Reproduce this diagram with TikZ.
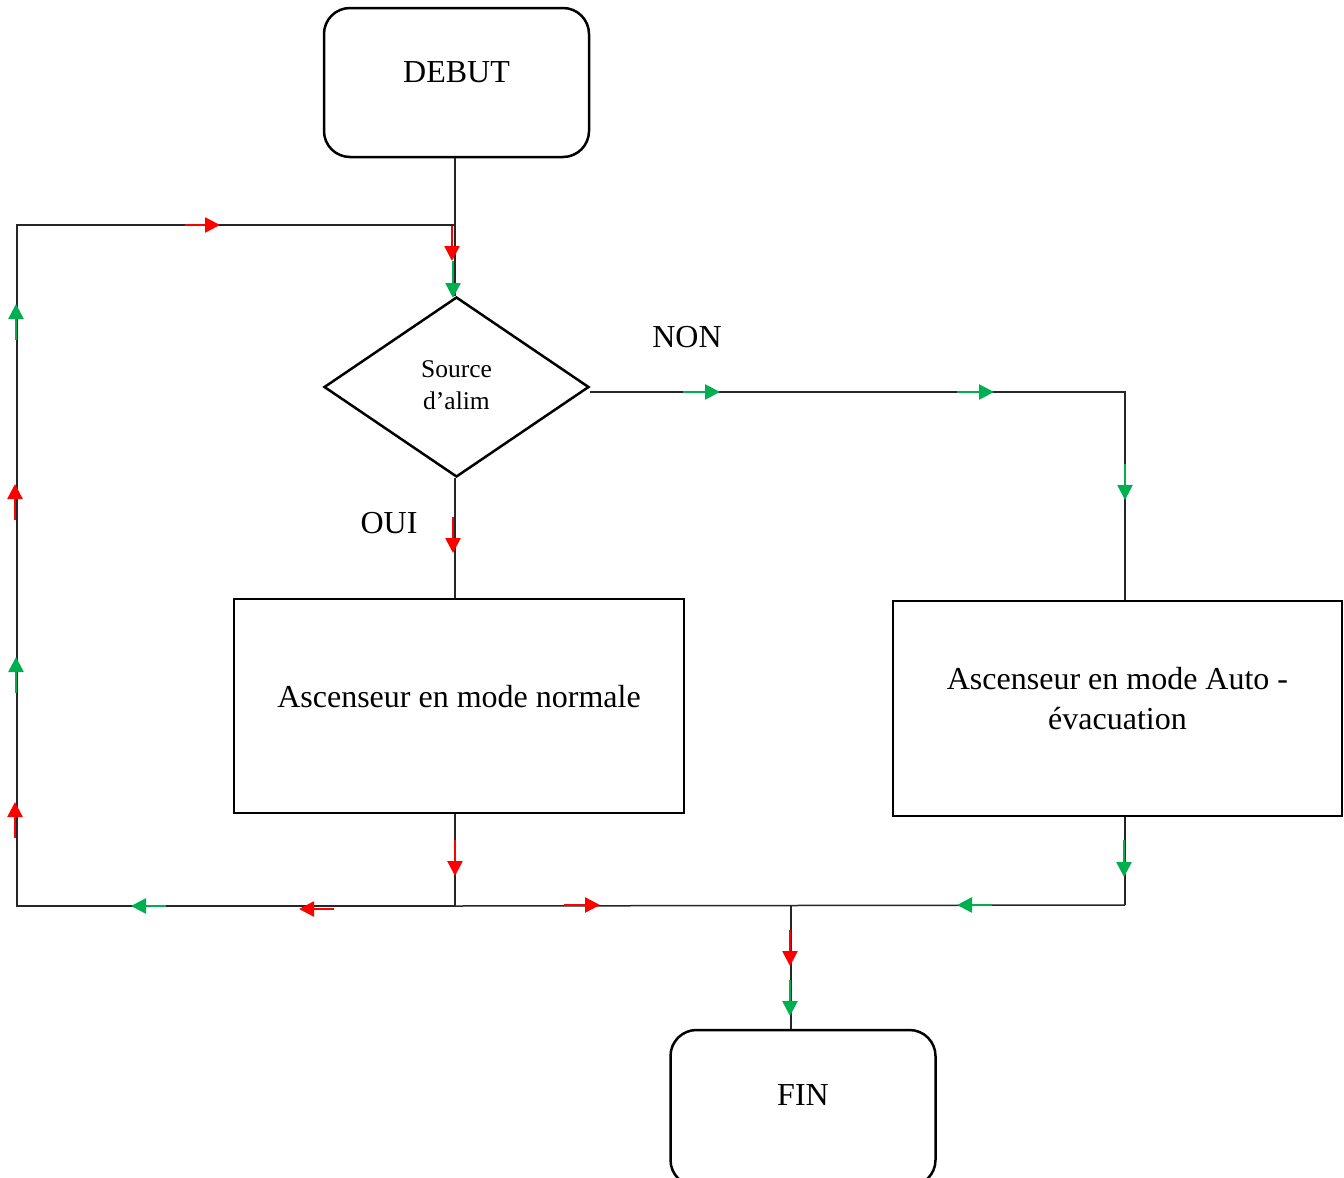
\documentclass[tikz,border=0pt]{standalone}
\usepackage{fontspec}
\setmainfont{Liberation Serif}
\usetikzlibrary{shapes.geometric,arrows.meta,calc}

\definecolor{flowred}{HTML}{FF0000}
\definecolor{flowgreen}{HTML}{00B050}

\tikzset{
  terminal/.style={draw, line width=2.5pt, rounded corners=26pt,
    minimum width=265pt, minimum height=149pt, inner sep=0pt,
    font=\fontsize{32}{40}\selectfont, text depth=20pt},
  process/.style={draw, line width=2.5pt, inner sep=0pt,
    font=\fontsize{32}{40}\selectfont, align=center},
  decision/.style={draw, diamond, line width=2.5pt, inner sep=0pt,
    minimum width=265pt, minimum height=180pt, aspect=1.47,
    font=\fontsize{25.5}{32}\selectfont, align=center, text depth=4pt},
  link/.style={draw, line width=1.5pt, black!85},
  lbl/.style={font=\fontsize{32}{40}\selectfont, inner sep=0pt},
  redmark/.style={draw=flowred, line width=2.6pt,
    -{Triangle[length=15pt,width=15pt,fill=flowred]}},
  greenmark/.style={draw=flowgreen, line width=2.6pt,
    -{Triangle[length=15pt,width=15pt,fill=flowgreen]}},
}

\begin{document}
\begin{tikzpicture}[x=1pt,y=-1pt]
\useasboundingbox[fill=white] (0,0) rectangle (1344,1178);

% blocks
\node[terminal] (debut) at (456.5,82.5) {DEBUT};
\node[decision] (alim) at (456.5,387) {Source\\d’alim};
\node[process, minimum width=450pt, minimum height=214pt, text depth=20pt]
  (normal) at (459,706) {Ascenseur en mode normale};
\node[process, minimum width=449pt, minimum height=215pt, text depth=20pt]
  (auto) at (1117.5,708.5) {Ascenseur en mode Auto -\\évacuation};
\begin{scope}
  \clip (0,0) rectangle (1344,1178);
  \node[terminal, minimum height=156pt, text depth=25pt] (fin) at (803,1108) {FIN};
\end{scope}

% branch labels
\node[lbl] (non) at (687,337) {NON};
\node[lbl] (oui) at (389,523) {OUI};

% junction points
\coordinate (jtop) at (455,225);
\coordinate (tl) at (17,225);
\coordinate (bl) at (17,906);
\coordinate (jl) at (455,906);
\coordinate (tr) at (1125,392);
\coordinate (jr) at (1125,905);
\coordinate (jm) at (791,905);

% connectors
\draw[link] (debut.south -| jtop) -- (jtop |- alim.north);
\draw[link] (jtop) -- (tl) -- (bl) -- (jl);
\draw[link] (alim.east |- tr) -- (tr) -- (tr |- auto.north);
\draw[link] (jtop |- alim.south) -- (jtop |- normal.north);
\draw[link] (jtop |- normal.south) -- (jl);
\draw[link] (jl) -- (jr);
\draw[link] (jr |- auto.south) -- (jr);
\draw[link] (jm) -- (jm |- fin.north);

% red flow marks (normal supply)
\draw[redmark] (185,225) -- (220,225);
\draw[redmark] (452,226) -- (452,261);
\draw[redmark] (453,517) -- (453,553);
\draw[redmark] (455,840) -- (455,876);
\draw[redmark] (334,909) -- (299,909);
\draw[redmark] (15,838) -- (15,802);
\draw[redmark] (15,520) -- (15,484);
\draw[redmark] (564,905) -- (600,905);
\draw[redmark] (790,930) -- (790,966);

% green flow marks (backup supply)
\draw[greenmark] (453,261) -- (453,298);
\draw[greenmark] (683,392) -- (720,392);
\draw[greenmark] (957,392) -- (994,392);
\draw[greenmark] (1125,464) -- (1125,500);
\draw[greenmark] (1124,840) -- (1124,877);
\draw[greenmark] (992,905) -- (957,905);
\draw[greenmark] (166,906) -- (131,906);
\draw[greenmark] (16,693) -- (16,657);
\draw[greenmark] (16,340) -- (16,304);
\draw[greenmark] (790,980) -- (790,1016);
\end{tikzpicture}
\end{document}
